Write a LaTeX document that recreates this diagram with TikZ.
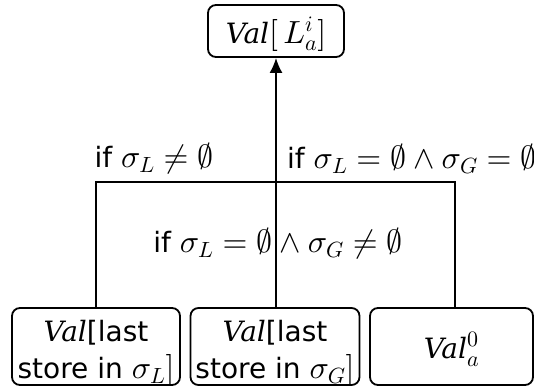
\documentclass[tikz,border=0pt]{standalone}
\DeclareFontShape{OML}{cmm}{m}{it}{<->cmmi10}{}
\DeclareFontShape{OML}{cmm}{b}{it}{<->cmmib10}{}
\DeclareFontShape{OMS}{cmsy}{m}{n}{<->cmsy10}{}
\DeclareFontShape{OMS}{cmsy}{b}{n}{<->cmbsy10}{}
\DeclareFontShape{OT1}{cmr}{m}{n}{<->cmr10}{}
\DeclareMathSizes{28}{32}{22}{16}
\usepackage{fontspec}
\setmainfont{DejaVu Sans}
\newfontfamily\valfont{DejaVu Serif}
\usetikzlibrary{arrows.meta}
\newcommand{\Val}{\mbox{\valfont\itshape Val}}
\newcommand{\twolines}[2]{\raisebox{-6pt}[\height][\depth]{\begin{tabular}{@{}c@{}}#1\\#2\end{tabular}}}
\begin{document}
\begin{tikzpicture}[x=1pt,y=-1pt,
  box/.style={draw,line width=1.8pt,rounded corners=8pt,inner sep=0pt,align=center,
    font=\fontsize{28}{37}\selectfont},
  lbl/.style={inner sep=0pt,font=\fontsize{28}{34}\selectfont},
  wire/.style={line width=1.8pt}]
\useasboundingbox (0,0) rectangle (534,387);
\node[box,minimum width=136pt,minimum height=52pt] (top) at (276,31) {\raisebox{-3pt}[\height][\depth]{\Val$[\,L_a^i]$}};
\node[box,minimum width=168pt,minimum height=77pt] (b1) at (96,346.5) {\twolines{\Val[last}{store in $\sigma_L]$}};
\node[box,minimum width=169pt,minimum height=77pt] (b2) at (275,346.5) {\twolines{\Val[last}{store in $\sigma_G]$}};
\node[box,minimum width=163pt,minimum height=77pt] (b3) at (451.5,346.5) {\raisebox{-3pt}[\height][\depth]{\Val$^0_a$}};
\coordinate (j) at (276,182);
\coordinate (r) at (455,308);
\draw[wire] (b1.north) |- (j) -| (r);
\draw[wire,-{Latex[length=15pt,width=13pt]}] (b2.north -| j) -- (top.south -| j);
\node[lbl] (l1) at (154,159) {if $\sigma_L\neq\emptyset$};
\node[lbl,anchor=west] (l2) at (287,159) {if $\sigma_L=\emptyset\wedge\sigma_G=\emptyset$};
\node[lbl] (l3) at (278,244) {if $\sigma_L=\emptyset\wedge\sigma_G\neq\emptyset$};
\end{tikzpicture}
\end{document}
